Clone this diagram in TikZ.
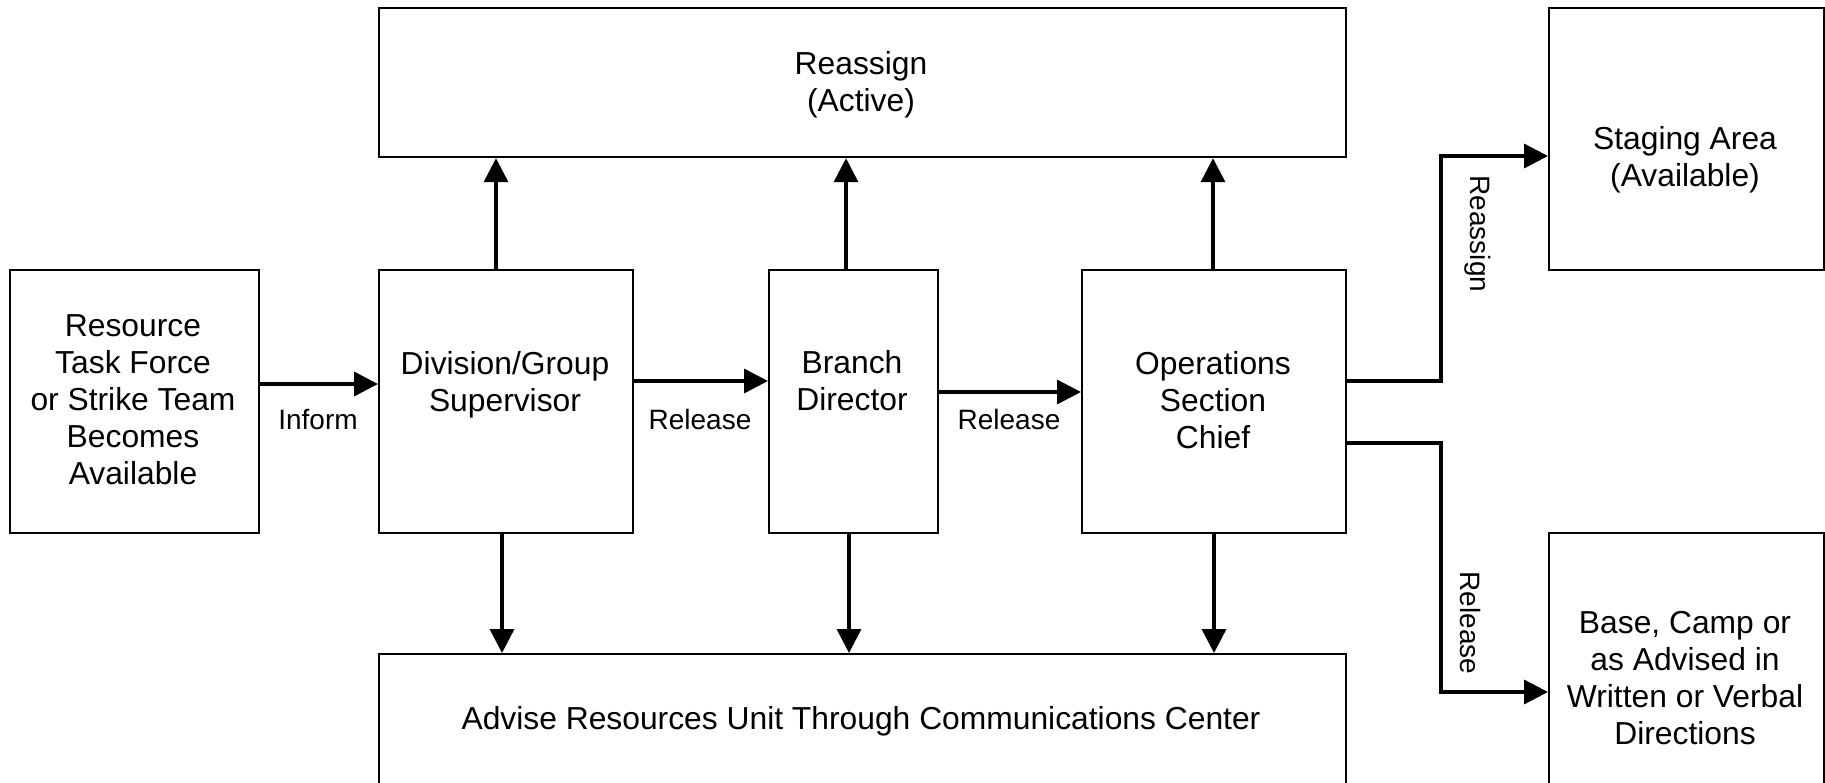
\documentclass[tikz,border=0pt]{standalone}
\usepackage{fontspec}
\setmainfont{Liberation Sans}
\usetikzlibrary{arrows.meta}
\begin{document}
\begin{tikzpicture}[x=0.5pt,y=-0.5pt,
  box/.style={draw,line width=1.1pt,rectangle,anchor=north west,inner sep=0pt},
  txt/.style={align=center,inner sep=0pt,font=\fontsize{15.9}{18.45}\selectfont},
  lbl/.style={inner sep=0pt,font=\fontsize{14}{16}\selectfont},
  arr/.style={line width=1.75pt,-{Triangle[length=12pt,width=12pt]}}]
\useasboundingbox (0,0) rectangle (1825,782);
\clip (0,0) rectangle (1825,782);
\fill[white] (0,0) rectangle (1825,782);
% boxes
\node[box,minimum width=483.5pt,minimum height=74.5pt] (rea) at (378,7) {};
\node[box,minimum width=137.5pt,minimum height=131pt] (stg) at (1548,7) {};
\node[box,minimum width=124.5pt,minimum height=131.5pt] (res) at (9,269) {};
\node[box,minimum width=127pt,minimum height=131.5pt] (div) at (378,269) {};
\node[box,minimum width=84.5pt,minimum height=131.5pt] (br) at (768,269) {};
\node[box,minimum width=132pt,minimum height=131.5pt] (ops) at (1081,269) {};
\node[box,minimum width=483.5pt,minimum height=100pt] (adv) at (378,653) {};
\node[box,minimum width=137.5pt,minimum height=150pt] (base) at (1548,532) {};
% texts
\node[txt] (trea) at (861,84.5) {Reassign\\(Active)};
\node[txt] (tstg) at (1685,160) {Staging Area\\(Available)};
\node[txt] (tres) at (133,400) {Resource\\Task Force\\or Strike Team\\Becomes\\Available};
\node[txt] (tdiv) at (505,384.5) {Division/Group\\Supervisor};
\node[txt] (tbr) at (852,381) {Branch\\Director};
\node[txt] (tops) at (1213,400.5) {Operations\\Section\\Chief};
\node[txt] (tadv) at (861,721.5) {Advise Resources Unit Through Communications Center};
\node[txt] (tbase) at (1685,678) {Base, Camp or\\as Advised in\\Written or Verbal\\Directions};
% labels
\node[lbl] (linf) at (318,419) {Inform};
\node[lbl] (lrel1) at (700,419) {Release};
\node[lbl] (lrel2) at (1009,419) {Release};
\node[lbl,rotate=-90] (lrea) at (1478,234) {Reassign};
\node[lbl,rotate=-90] (lrel3) at (1470,623) {Release};
% horizontal connectors
\draw[arr] (res.east |- 0,384) -- (div.west |- 0,384);
\draw[arr] (div.east |- 0,381) -- (br.west |- 0,381);
\draw[arr] (br.east |- 0,392) -- (ops.west |- 0,392);
% up
\draw[arr] (div.north -| 496,0) -- (rea.south -| 496,0);
\draw[arr] (br.north -| 846,0) -- (rea.south -| 846,0);
\draw[arr] (ops.north -| 1213,0) -- (rea.south -| 1213,0);
% down
\draw[arr] (div.south -| 502,0) -- (adv.north -| 502,0);
\draw[arr] (br.south -| 849,0) -- (adv.north -| 849,0);
\draw[arr] (ops.south -| 1214,0) -- (adv.north -| 1214,0);
% right side
\coordinate (c1) at (1441,156);
\coordinate (c2) at (1441,692);
\draw[arr,line join=miter] (ops.east |- 0,381) -| (c1) -- (stg.west |- c1);
\draw[arr,line join=miter] (ops.east |- 0,443) -| (c2) -- (base.west |- c2);
\end{tikzpicture}
\end{document}
